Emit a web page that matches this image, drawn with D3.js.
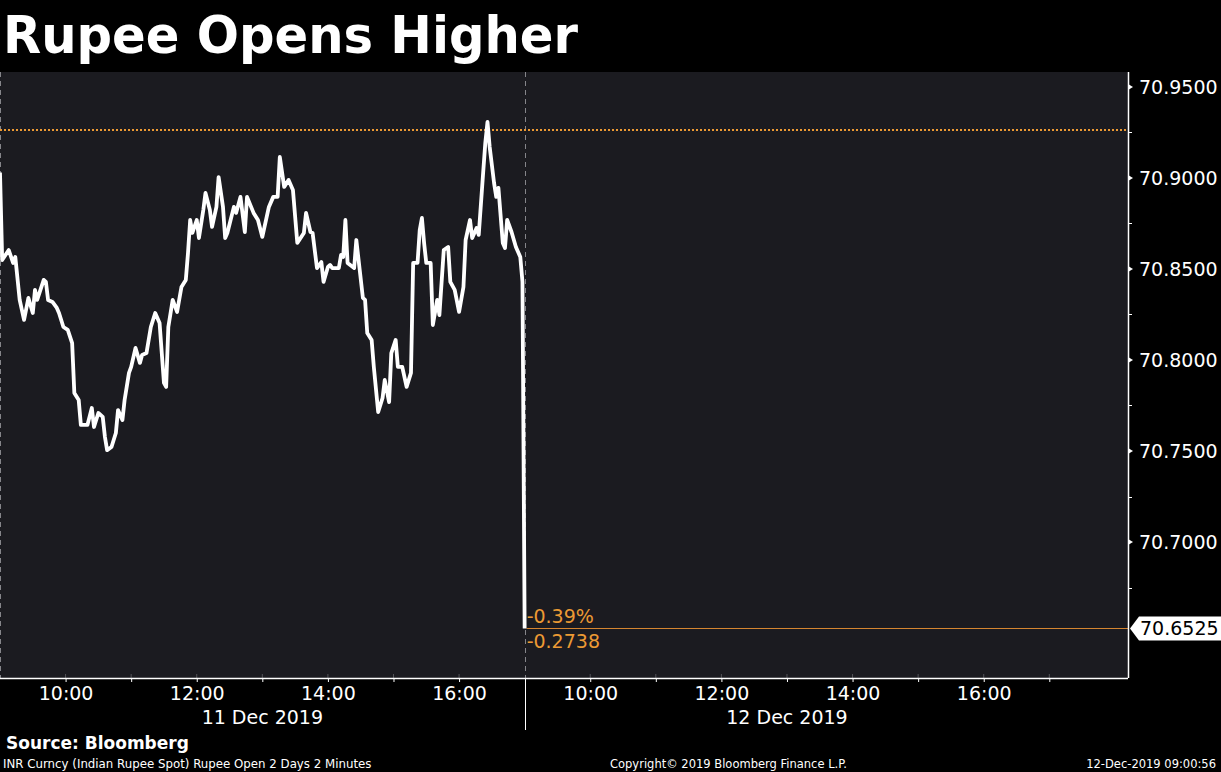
<!DOCTYPE html>
<html>
<head>
<meta charset="utf-8">
<script src="https://cdn.jsdelivr.net/npm/d3@7"></script>
<style>
  body { margin: 0; background: #000; }
  svg { display: block; }
</style>
</head>
<body>
<script>
// data: INR spot, 2 minute bars
const sessionDays = ["11 Dec 2019", "12 Dec 2019"];
const day1Times = ["09:00","09:02","09:08","09:12","09:14","09:18","09:22","09:26","09:30","09:32","09:34","09:40","09:42","09:44","09:48","09:52","09:54","09:58",
  "10:02","10:06","10:08","10:12","10:14","10:20","10:24","10:26","10:30","10:34","10:36","10:38","10:42","10:46","10:48","10:52","10:54","10:58",
  "11:00","11:04","11:08","11:10","11:14","11:18","11:22","11:26","11:30","11:32","11:34","11:38","11:42","11:46","11:50","11:52","11:54","11:56",
  "12:00","12:02","12:06","12:08","12:12","12:14","12:18","12:20","12:24","12:26","12:28","12:34","12:36","12:40","12:44","12:46","12:52","12:56",
  "13:00","13:06","13:10","13:14","13:16","13:20","13:24","13:28","13:32","13:38","13:40","13:44","13:46","13:50","13:54","13:56",
  "14:00","14:02","14:04","14:10","14:12","14:14","14:16","14:18","14:24","14:26","14:32","14:34","14:36","14:40","14:42","14:46","14:50","14:52","14:56","14:58",
  "15:02","15:04","15:08","15:12","15:16","15:18","15:22","15:24","15:26","15:28","15:30","15:34","15:36","15:40","15:42","15:46","15:50","15:52","15:56",
  "16:00","16:04","16:06","16:10","16:12","16:16","16:18","16:22","16:24","16:26","16:28","16:32","16:34","16:36","16:40","16:42","16:44","16:48","16:52","16:56","16:58"];
const day1Values = [70.9030,70.8549,70.8604,70.8533,70.8566,70.8330,70.8220,70.8341,70.8258,70.8385,70.8330,70.8440,70.8429,70.8330,70.8319,70.8286,70.8258,70.8181,
  70.8165,70.8093,70.7819,70.7780,70.7643,70.7643,70.7736,70.7632,70.7709,70.7687,70.7577,70.7505,70.7522,70.7599,70.7725,70.7670,70.7780,70.7929,
  70.7962,70.8066,70.7984,70.8027,70.8038,70.8181,70.8258,70.8203,70.7874,70.7852,70.8181,70.8330,70.8264,70.8401,70.8440,70.8588,70.8769,70.8698,
  70.8769,70.8670,70.8824,70.8918,70.8824,70.8731,70.8841,70.9005,70.8841,70.8670,70.8698,70.8841,70.8808,70.8896,70.8703,70.8896,70.8808,70.8769,
  70.8676,70.8841,70.8896,70.8896,70.9115,70.8951,70.8989,70.8934,70.8643,70.8698,70.8808,70.8703,70.8698,70.8505,70.8538,70.8429,
  70.8511,70.8522,70.8505,70.8505,70.8577,70.8566,70.8769,70.8533,70.8505,70.8659,70.8341,70.8330,70.8148,70.8110,70.7962,70.7714,70.7791,70.7890,70.7769,70.8038,
  70.8110,70.7962,70.7962,70.7852,70.7929,70.8533,70.8533,70.8714,70.8780,70.8643,70.8533,70.8533,70.8192,70.8330,70.8247,70.8604,70.8621,70.8429,70.8385,
  70.8264,70.8401,70.8659,70.8769,70.8670,70.8725,70.8687,70.9027,70.9192,70.9308,70.9170,70.8973,70.8896,70.8945,70.8643,70.8615,70.8769,70.8703,70.8621,70.8566,70.8429];
const day2Times = ["09:00"];
const day2Values = [70.6525];
const prevClose = 70.9263;
const yMajorTicks = [70.70, 70.75, 70.80, 70.85, 70.90, 70.95];
const yMinorTicks = [70.675, 70.725, 70.775, 70.825, 70.875, 70.925];
const hourTicks = [10, 11, 12, 13, 14, 15, 16, 17];
const hourLabels = ["10:00", "", "12:00", "", "14:00", "", "16:00", ""];

const sessionOpen = 9, dayLength = 8;   // each day drawn 09:00 - 17:00, the last day runs on

// canvas
const canvWidth = 1221, canvHeight = 772;
const margin = {top: 72, right: 93, bottom: 94, left: 0};
const width = canvWidth - margin.left - margin.right;
const height = canvHeight - margin.top - margin.bottom;
const font = "'DejaVu Sans', Verdana, sans-serif";
const orange = "#ec9a34";

const svg = d3.select("body").append("svg")
    .attr("width", canvWidth)
    .attr("height", canvHeight);

svg.append("rect")
    .attr("width", canvWidth)
    .attr("height", canvHeight)
    .attr("fill", "#000");

// title
svg.append("text")
    .attr("x", 3)
    .attr("y", 53)
    .attr("font-family", font)
    .attr("font-weight", "bold")
    .attr("font-size", "51px")
    .attr("fill", "#fff")
    .attr("textLength", 575)
    .attr("lengthAdjust", "spacingAndGlyphs")
    .text("Rupee Opens Higher");

const g = svg.append("g")
    .attr("transform", "translate(" + margin.left + "," + margin.top + ")");

g.append("rect")
    .attr("width", width)
    .attr("height", height)
    .attr("fill", "#1b1b20");

function toSession(day, t) {
    const [h, m] = t.split(":").map(Number);
    return day * dayLength + h + m / 60 - sessionOpen;
}

const series = day1Times.map((t, i) => ({pos: toSession(0, t), value: day1Values[i]}))
    .concat(day2Times.map((t, i) => ({pos: toSession(1, t), value: day2Values[i]})));

const xScale = d3.scaleLinear()
    .domain([0, 17.2])
    .range([0, width]);

const yScale = d3.scaleLinear()
    .domain([70.6253, 70.9582])
    .range([height, 0]);

// day dividers
sessionDays.forEach((d, i) => {
    const xx = Math.max(0.5, Math.round(xScale(i * dayLength)) + 0.5);
    g.append("line")
        .attr("x1", xx).attr("x2", xx)
        .attr("y1", 0).attr("y2", height)
        .attr("stroke", "#85858a")
        .attr("stroke-dasharray", "5,4");
});

// previous close, dotted
g.append("line")
    .attr("x1", 0).attr("x2", width)
    .attr("y1", yScale(prevClose)).attr("y2", yScale(prevClose))
    .attr("stroke", orange)
    .attr("stroke-width", 2)
    .attr("stroke-dasharray", "2,2");

const last = series[series.length - 1];

// last price line
g.append("line")
    .attr("x1", xScale(last.pos) + 2).attr("x2", width)
    .attr("y1", Math.round(yScale(last.value)) + 0.5).attr("y2", Math.round(yScale(last.value)) + 0.5)
    .attr("stroke", "#d58530")
    .attr("stroke-width", 1.2);

// price line
const line = d3.line()
    .x(d => xScale(d.pos))
    .y(d => yScale(d.value));

g.append("path")
    .datum(series)
    .attr("d", line)
    .attr("fill", "none")
    .attr("stroke", "#fff")
    .attr("stroke-width", 3.8)
    .attr("stroke-linejoin", "round");

// change vs previous close
const change = last.value - prevClose;
const fmt = f => d3.format(f);
g.append("text")
    .attr("x", xScale(last.pos) + 2)
    .attr("y", yScale(last.value) - 5)
    .attr("font-family", font)
    .attr("font-size", "19px")
    .attr("fill", orange)
    .text(fmt(".2f")(change / prevClose * 100).replace("\u2212", "-") + "%");
g.append("text")
    .attr("x", xScale(last.pos) + 2)
    .attr("y", yScale(last.value) + 20)
    .attr("font-family", font)
    .attr("font-size", "19px")
    .attr("fill", orange)
    .text(fmt(".4f")(change).replace("\u2212", "-"));

// y axis on the right
const yAxis = d3.axisRight(yScale)
    .tickValues(yMajorTicks)
    .tickFormat(d3.format(".4f"))
    .tickSize(0)
    .tickPadding(11);

const yg = g.append("g")
    .attr("transform", "translate(" + width + ",0)")
    .call(yAxis);
yg.select(".domain").remove();
yg.selectAll("text")
    .attr("fill", "#fff")
    .attr("font-family", font)
    .attr("font-size", "19px");

yg.selectAll(".tri")
    .data(yMajorTicks)
    .enter().append("path")
    .attr("class", "tri")
    .attr("d", d => "M0," + (yScale(d) - 3) + "L5," + yScale(d) + "L0," + (yScale(d) + 3) + "Z")
    .attr("fill", "#fff");

yg.selectAll(".minor")
    .data(yMinorTicks)
    .enter().append("line")
    .attr("class", "minor")
    .attr("x1", 0).attr("x2", 4)
    .attr("y1", d => Math.round(yScale(d)) + 0.5)
    .attr("y2", d => Math.round(yScale(d)) + 0.5)
    .attr("stroke", "#fff");

yg.append("line")
    .attr("x1", 0.5).attr("x2", 0.5)
    .attr("y1", 0).attr("y2", height)
    .attr("stroke", "#fff")
    .attr("stroke-width", 1.5);

// last price tag
const tagY = yScale(last.value);
const tag = yg.append("g").attr("transform", "translate(2," + tagY + ")");
tag.append("path")
    .attr("d", "M0,0L9,-12L93,-12L93,12L9,12Z")
    .attr("fill", "#fff");
tag.append("text")
    .attr("x", 10)
    .attr("dy", "0.36em")
    .attr("font-family", font)
    .attr("font-size", "19px")
    .attr("fill", "#000")
    .text(d3.format(".4f")(last.value));

// x axis: hours per session
const tickPos = [], tickText = {};
sessionDays.forEach((d, i) => {
    hourTicks.forEach((h, j) => {
        if (i === 0 && h === sessionOpen + dayLength) return;
        const p = i * dayLength + h - sessionOpen;
        tickPos.push(p);
        tickText[p] = hourLabels[j];
    });
});

const xAxis = d3.axisBottom(xScale)
    .tickValues(tickPos)
    .tickFormat(p => tickText[p])
    .tickSize(4)
    .tickPadding(5);

const xg = g.append("g")
    .attr("transform", "translate(0," + height + ")")
    .call(xAxis);
xg.select(".domain").remove();
xg.selectAll("line").attr("stroke", "#fff");
xg.selectAll("text")
    .attr("fill", "#fff")
    .attr("font-family", font)
    .attr("font-size", "19px");

xg.selectAll(".inner")
    .data(tickPos)
    .enter().append("line")
    .attr("class", "inner")
    .attr("x1", d => xScale(d)).attr("x2", d => xScale(d))
    .attr("y1", -4).attr("y2", 0)
    .attr("stroke", "#55555a");

xg.append("line")
    .attr("x1", 0).attr("x2", width)
    .attr("y1", 0.5).attr("y2", 0.5)
    .attr("stroke", "#fff")
    .attr("stroke-width", 1.5);

// day separator below axis
xg.append("line")
    .attr("x1", Math.round(xScale(dayLength)) + 0.5).attr("x2", Math.round(xScale(dayLength)) + 0.5)
    .attr("y1", 0).attr("y2", 52)
    .attr("stroke", "#fff");

// date labels, centered in each session
xg.selectAll(".day")
    .data(sessionDays)
    .enter().append("text")
    .attr("class", "day")
    .attr("x", (d, i) => xScale(i * dayLength + dayLength / 2))
    .attr("y", 46)
    .attr("text-anchor", "middle")
    .attr("font-family", font)
    .attr("font-size", "19px")
    .attr("fill", "#fff")
    .text(d => d);

// footer
svg.append("text")
    .attr("x", 6).attr("y", 749)
    .attr("font-family", font)
    .attr("font-weight", "bold")
    .attr("font-size", "17px")
    .attr("fill", "#fff")
    .text("Source: Bloomberg");

svg.append("text")
    .attr("x", 3).attr("y", 768)
    .attr("font-family", font)
    .attr("font-size", "11.8px")
    .attr("fill", "#fff")
    .text("INR Curncy (Indian Rupee Spot) Rupee Open 2 Days 2 Minutes");

svg.append("text")
    .attr("x", 610).attr("y", 768)
    .attr("font-family", font)
    .attr("font-size", "11.5px")
    .attr("fill", "#fff")
    .text("Copyright\u00a9 2019 Bloomberg Finance L.P.");

svg.append("text")
    .attr("x", 1216).attr("y", 768)
    .attr("text-anchor", "end")
    .attr("font-family", font)
    .attr("font-size", "11.5px")
    .attr("fill", "#fff")
    .text("12-Dec-2019 09:00:56");
</script>
</body>
</html>
